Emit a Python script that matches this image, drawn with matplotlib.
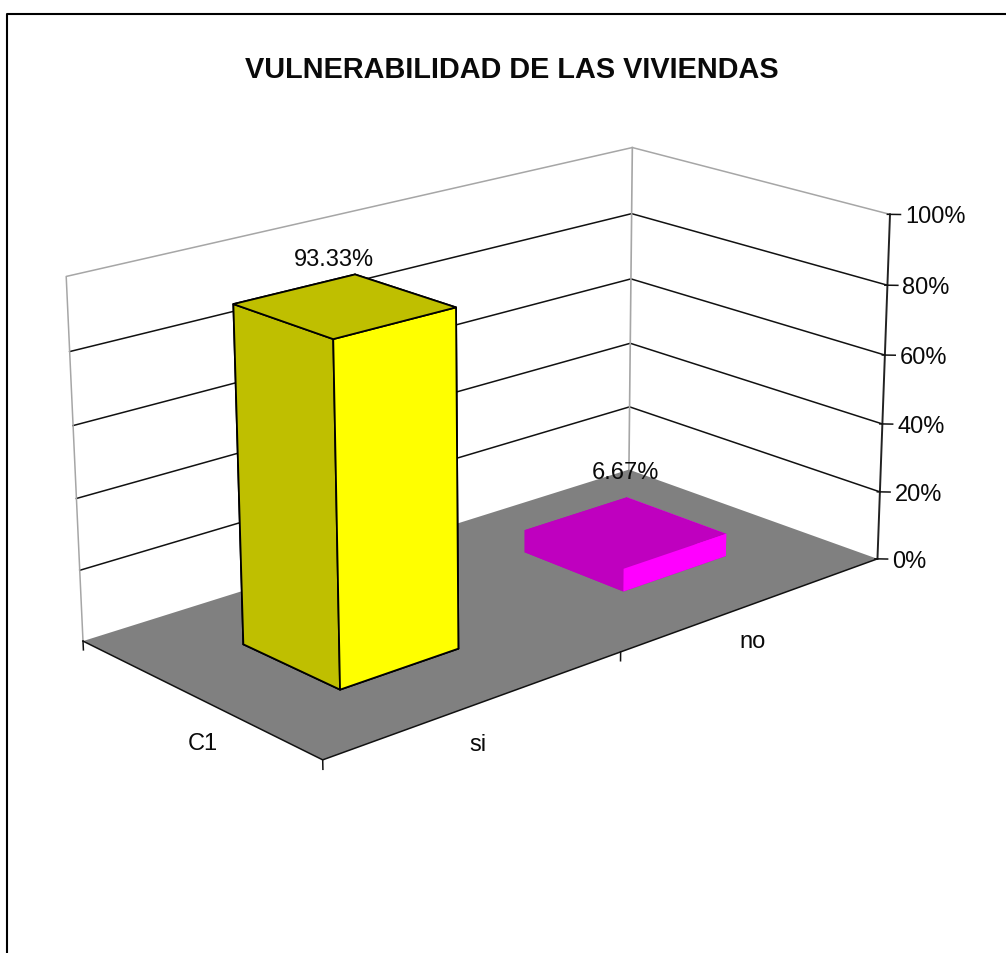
import numpy as np
import matplotlib
matplotlib.use('Agg')
import matplotlib.pyplot as plt
from matplotlib.lines import Line2D
from mpl_toolkits.mplot3d import proj3d
from mpl_toolkits.mplot3d.art3d import Poly3DCollection

categories = ['si', 'no']
series_name = 'C1'
values = [93.33, 6.67]
value_labels = ['93.33%', '6.67%']
z_ticks = [0, 20, 40, 60, 80, 100]
z_ticklabels = ['0%', '20%', '40%', '60%', '80%', '100%']
bar_colors = ['#FFFF00', '#FF00FF']
bar_shades = ['#BFBF00', '#BF00BF']
bar_edges = ['black', None]

W, H = 1006, 954
plt.rcParams['font.family'] = ['Liberation Sans', 'DejaVu Sans']

fig = plt.figure(figsize=(W / 100, H / 100), dpi=100, facecolor='white')
ax = fig.add_axes([0, 0, 1, 1], projection='3d')
ax.set_xticks([])
ax.set_yticks([])
ax.set_zticks([])
ax.set_axis_off()
ax.computed_zorder = False
ax.apply_aspect()

# camera: the box corners as they sit in the picture, pixels from top left
calib_3d = np.array([
    [0, 0, 0], [2, 0, 0], [0, 1, 0], [2, 1, 0],
    [0, 1, 100], [2, 1, 100], [2, 0, 100],
    [2, 0, 60], [2, 1, 60], [0, 1, 60], [2, 0, 20], [2, 1, 20],
], dtype=float)
calib_px = np.array([
    [323, 761], [877, 560], [83, 642], [629, 470],
    [67, 278], [632, 148], [890, 215],
    [885, 356], [631, 281], [72, 426], [880, 493], [630, 408],
], dtype=float)


def fit_camera(pts, px):
    uv = ax.transData.inverted().transform(np.c_[px[:, 0], H - px[:, 1]])
    rows, rhs = [], []
    for (x, y, z), (u, v) in zip(pts, uv):
        rows.append([x, y, z, 1, 0, 0, 0, 0, -u * x, -u * y, -u * z])
        rhs.append(u)
        rows.append([0, 0, 0, 0, x, y, z, 1, -v * x, -v * y, -v * z])
        rhs.append(v)
    p = np.linalg.lstsq(np.array(rows), np.array(rhs), rcond=None)[0]
    # third row is only depth for face sorting: far = +x, +y, low z
    # kept negative, Line3D drops points with depth above 0
    return np.array([p[:4], p[4:8], [0.15, 0.3, -0.003, -1.0], [p[8], p[9], p[10], 1.0]])


M = fit_camera(calib_3d, calib_px)
ax.get_proj = lambda: M


def label(x, y, z, s, ha='center'):
    # project once and place as flat text
    px, py, _ = proj3d.proj_transform(x, y, z, M)
    ax.text2D(px, py, s, transform=ax.transData, fontsize=17, ha=ha, va='center',
              color='#0A0A0A', zorder=10)


# floor
floor = Poly3DCollection([[(0, 0, 0), (2, 0, 0), (2, 1, 0), (0, 1, 0)]],
                         facecolor='#808080', edgecolor='none', zorder=2)
ax.add_collection3d(floor, autolim=False)

# walls
wall_gray = '#A6A6A6'
for z in z_ticks[1:-1]:
    ax.plot([0, 2, 2], [1, 1, 0], [z, z, z], color='#111111', lw=1.1, zorder=1)
ax.plot([0, 0, 2, 2], [1, 1, 1, 0], [0, 100, 100, 100], color=wall_gray, lw=1.1, zorder=1)
ax.plot([2, 2], [1, 1], [0, 100], color=wall_gray, lw=1.2, zorder=1)

# axes lines and ticks
ax.plot([0, 0, 2], [1, 0, 0], [0, 0, 0], color='#111111', lw=1.1, zorder=3)
ax.plot([2, 2], [0, 0], [0, 100], color='#222222', lw=1.4, zorder=3)
for z, lab in zip(z_ticks, z_ticklabels):
    ax.plot([1.995, 2.02], [0.005, -0.02], [z, z], color='#111111', lw=1.1, zorder=3)
    label(2.029, -0.029, z - 0.5, lab, ha='left')
for x, y in [(0, 1), (0, 0), (1, 0)]:
    ax.plot([x, x], [y, y], [0, -2.5], color='#111111', lw=1.1, zorder=3)

# category labels
for i, cat in enumerate(categories):
    label(i + 0.5, 0, -11, cat)
label(0, 0.485, -12, series_name)

# bars
label_dx = [0.0, 0.03]
label_dz = [13, 18]
for i, v in enumerate(values):
    c, s = bar_colors[i], bar_shades[i]
    faces = [s, s, c, s, s, c]
    ax.bar3d(i + 0.3, 0.3, 0, 0.4, 0.4, v, color=faces, shade=False,
             edgecolor=bar_edges[i] if bar_edges[i] else 'none',
             linewidth=1.3 if bar_edges[i] else 0, zorder=4 + i)
    label(i + 0.47 + label_dx[i], 0.5, v + label_dz[i], value_labels[i])

ax.set_xlim(0, 2)
ax.set_ylim(0, 1)
ax.set_zlim(0, 100)

fig.text(512 / W, 1 - 70 / H, 'VULNERABILIDAD DE LAS VIVIENDAS', fontsize=20.8,
         fontweight='bold', ha='center', va='center', color='#0A0A0A')

# chart frame, cut by the image edge at right and bottom
fx, fy = 7 / W, 1 - 15 / H
fig.add_artist(Line2D([fx, fx, 1.0], [0, fy, fy], transform=fig.transFigure,
                      color='black', lw=1.5))

fig.savefig('out.png', dpi=100)
